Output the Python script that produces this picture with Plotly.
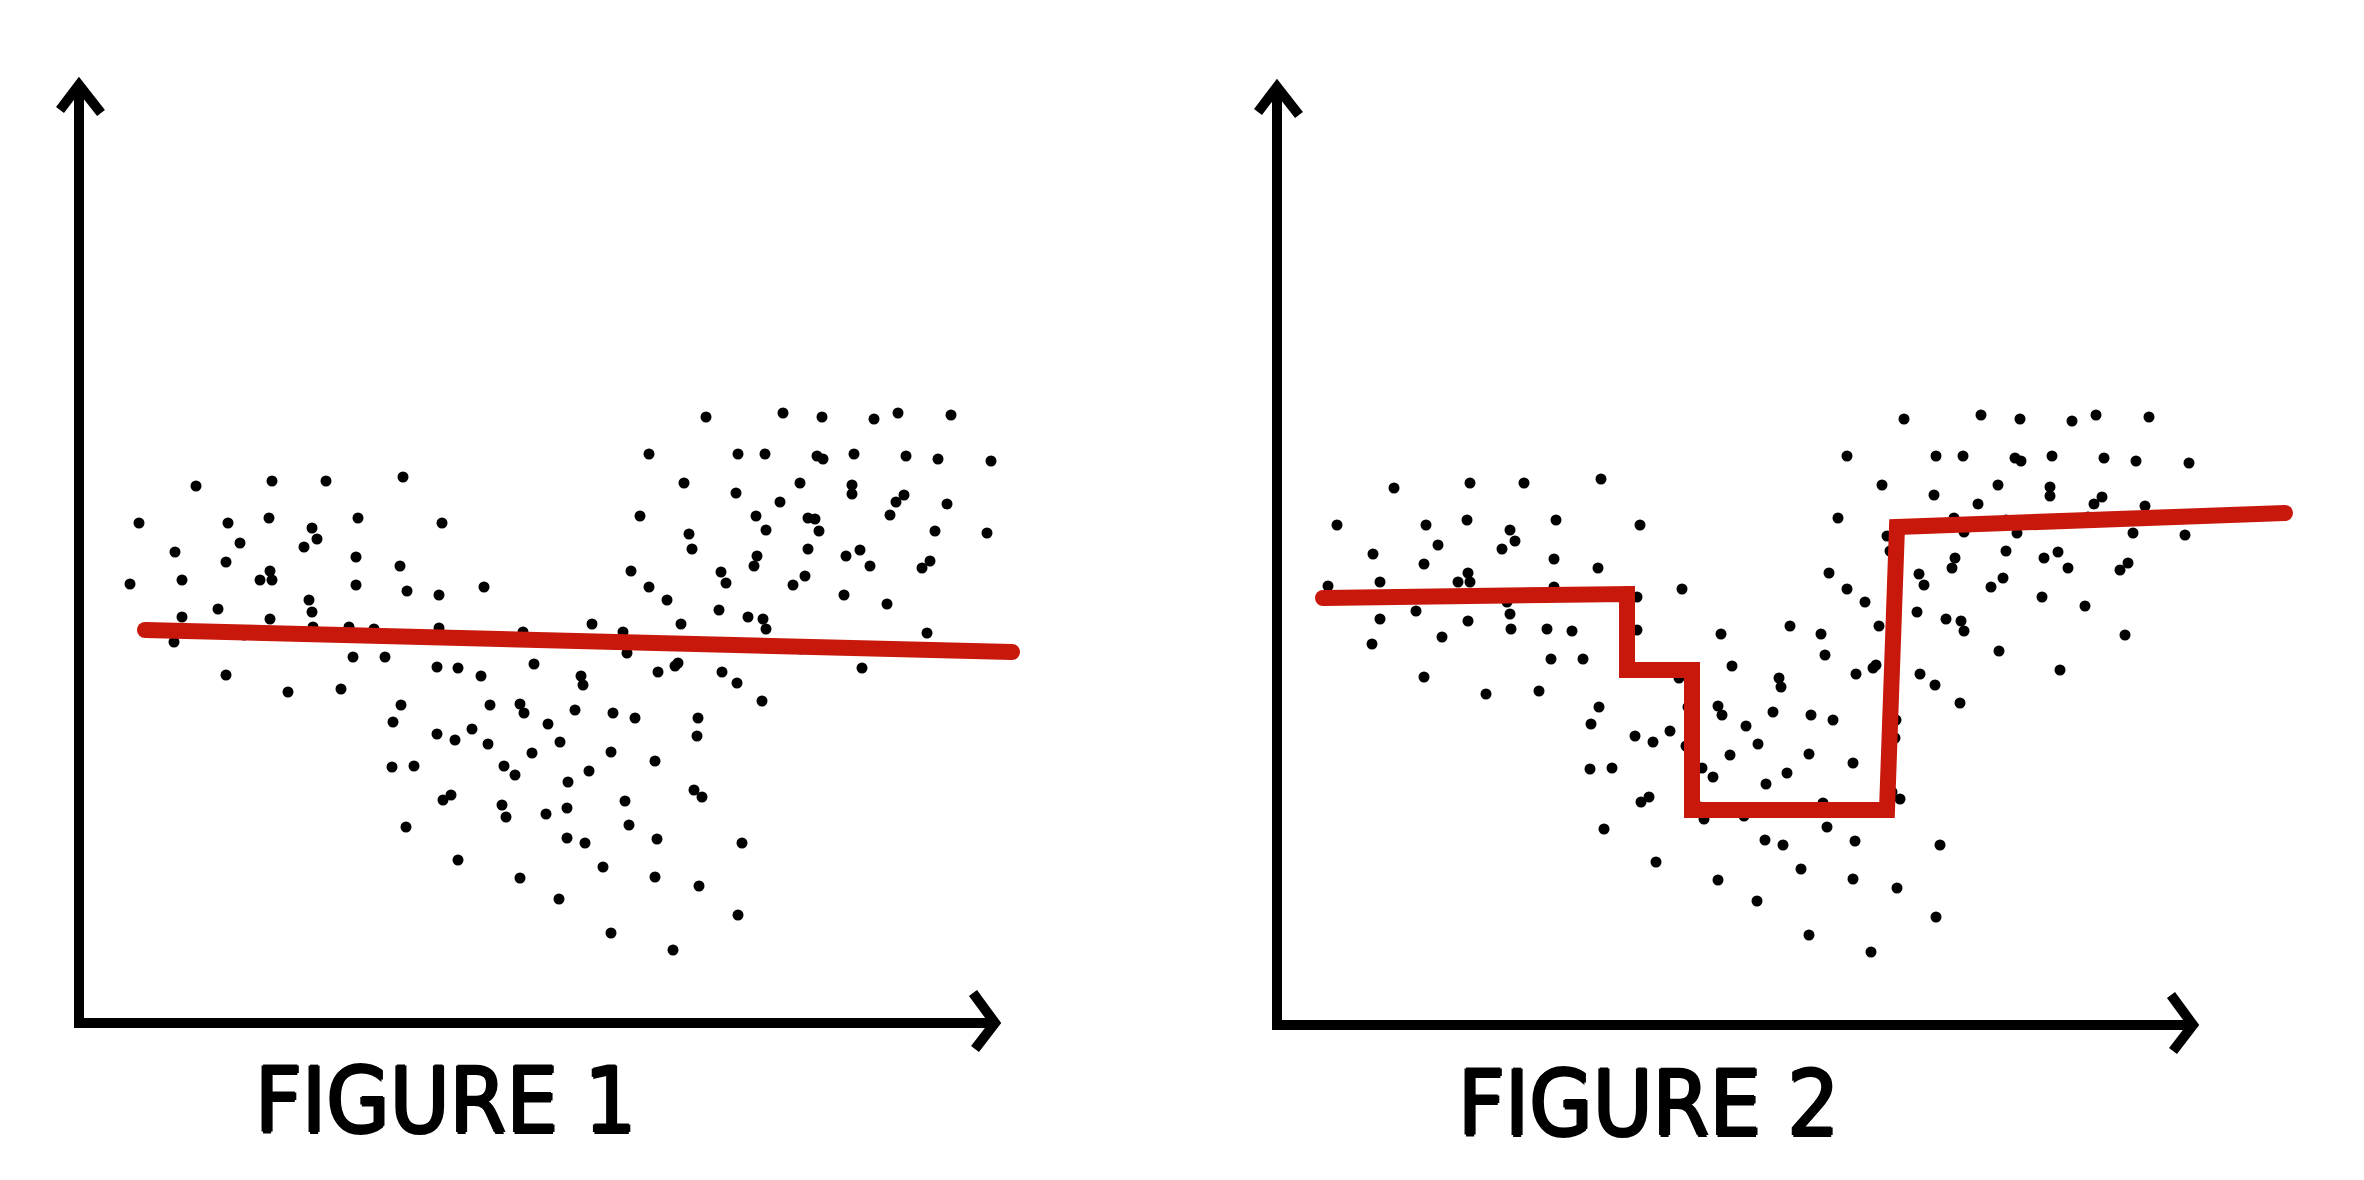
import plotly.graph_objects as go

# ---- data (shared point cloud, drawn in both panels) ----
dot_x = [11.7, 19.3, 24.7, 32.4, 6.0, 14.9, 19.0, 27.9, 36.3, 23.3, 23.8, 16.1, 9.6, 22.5, 27.7, 14.7, 32.1,
         5.1, 10.3, 18.1, 19.1, 19.3, 27.7, 32.8, 36.0, 40.5, 23.0, 23.3, 10.3, 13.9, 19.1, 23.4, 27.0, 29.5,
         36.0, 44.4, 9.5, 27.4, 30.6, 35.8, 37.9, 40.2, 45.5, 14.7, 16.5,
         62.7, 70.4, 74.3, 79.5, 81.9, 87.2, 57.0, 65.9, 68.6, 73.8, 74.4, 77.5, 82.7, 85.9, 91.2,
         60.5, 65.7, 72.1, 77.3, 77.3, 82.5, 81.7, 86.8, 70.1, 56.1, 67.7, 68.7, 72.9, 73.6, 74.0, 81.1,
         85.6, 90.8, 61.0, 61.3, 72.9, 67.8, 67.5, 76.7, 78.1, 79.1, 85.1, 84.3, 55.2, 64.2, 64.7, 72.6,
         71.4, 57.0, 58.8, 76.5, 80.8, 64.0, 66.9, 68.4, 68.7, 51.3, 60.2, 54.4, 84.8, 54.8, 57.9, 59.6,
         59.9, 64.3, 65.8, 78.3, 50.2, 50.4, 72.2,
         20.9, 26.2, 32.2, 31.4, 41.1, 44.1, 44.5, 46.9, 35.8, 37.6, 39.3, 40.9, 45.3, 48.1, 31.3, 33.5,
         42.5, 43.6, 48.9, 36.4, 37.2, 42.3, 42.7, 46.7, 48.8, 48.8, 32.7, 37.9, 44.1, 48.0,
         68.3, 49.6, 53.4, 55.6, 61.9, 61.8, 53.2, 57.6, 51.0, 54.6, 61.5, 62.3, 55.0, 50.6, 57.8, 66.3,
         52.4, 57.6, 62.0, 65.9, 53.2, 59.4]
dot_y = [53.7, 54.2, 54.2, 54.6, 50.0, 50.0, 50.5, 50.5, 50.0, 49.5, 48.4, 48.0, 47.1, 47.6, 46.6, 46.1, 45.7,
         43.9, 44.3, 44.3, 45.2, 44.3, 43.8, 43.2, 42.8, 43.6, 42.3, 41.1, 40.6, 41.4, 40.4, 39.6, 39.6, 39.4,
         39.5, 39.1, 38.1, 36.6, 36.6, 35.6, 35.5, 34.7, 35.9, 34.8, 38.8,
         60.6, 61.0, 60.6, 60.4, 61.0, 60.8, 56.9, 56.9, 56.9, 56.7, 56.4, 56.9, 56.7, 56.4, 56.2,
         54.0, 53.0, 54.0, 53.8, 52.9, 52.8, 52.1, 51.9, 52.1, 50.7, 50.7, 49.3, 50.5, 50.4, 49.2, 50.8,
         49.2, 49.0, 48.9, 47.4, 47.4, 46.7, 45.7, 46.7, 47.3, 45.7, 46.2, 45.5, 45.2, 45.1, 44.0, 44.7,
         43.8, 43.6, 42.3, 42.8, 41.9, 41.3, 40.6, 40.4, 39.4, 39.9, 39.9, 39.1, 39.0, 37.0, 35.1, 35.7,
         36.0, 35.1, 34.0, 35.5, 34.7, 33.8, 37.4,
         33.1, 33.4, 31.8, 30.1, 31.8, 31.9, 31.0, 29.9, 28.9, 28.3, 29.4, 27.9, 27.0, 28.1, 25.6, 25.7,
         25.7, 24.8, 24.1, 22.3, 22.8, 21.8, 20.6, 20.9, 21.5, 18.5, 19.6, 16.3, 14.5, 12.4,
         32.2, 31.3, 31.0, 30.5, 30.5, 28.7, 27.1, 26.2, 25.2, 22.2, 23.3, 22.6, 19.8, 18.0, 18.4, 18.0,
         15.6, 14.6, 13.7, 10.8, 9.0, 7.3]

# Figure 1: straight-line fit
fit1_x = [6.6, 93.3]
fit1_y = [39.3, 37.1]

# Figure 2: step-function fit
step_x = [4.6, 35.0, 35.0, 41.5, 41.5, 61.0, 62.0, 100.8]
step_y = [42.7, 43.1, 35.5, 35.5, 21.5, 21.5, 49.8, 51.2]

labels = ["FIGURE 1", "FIGURE 2"]

# ---- styling / layout constants ----
W, H = 2364, 1180
INK = "#000000"
RED = "#c8180c"
AXIS_W = 10
FIT_W = 16
X_END, Y_END = 91.6, 93.8  # arrow tips, in each panel's data units
LABEL_FONT = dict(family="DejaVu Sans Condensed, Liberation Sans Narrow, Arial Narrow, sans-serif",
                  size=91, color=INK,
                  shadow="1.5px 0 0 #000, -1.5px 0 0 #000, 0 1.5px 0 #000, 0 -1.5px 0 #000")

fig = go.Figure()

panels = [("x", "y"), ("x2", "y2")]
fits = [(fit1_x, fit1_y), (step_x, step_y)]

for (xa, ya), (fx, fy) in zip(panels, fits):
    fig.add_trace(go.Scatter(x=dot_x, y=dot_y, mode="markers", xaxis=xa, yaxis=ya,
                             marker=dict(color=INK, size=11, line=dict(width=0)),
                             hoverinfo="skip", showlegend=False))
    fig.add_trace(go.Scatter(x=fx, y=fy, mode="lines+markers", xaxis=xa, yaxis=ya,
                             line=dict(color=RED, width=FIT_W),
                             marker=dict(color=RED, size=FIT_W, line=dict(width=0)),
                             hoverinfo="skip", showlegend=False))

shapes = []
for xa, ya in panels:
    common = dict(xref=xa, yref=ya, line=dict(color=INK, width=AXIS_W), layer="below")
    shapes.append(dict(type="path", path=f"M 0 {Y_END} L 0 0 L {X_END} 0", **common))
    shapes.append(dict(type="path",
                       path=f"M -1.9 {Y_END-2.5} L 0 {Y_END} L 2.2 {Y_END-2.8}", **common))
    shapes.append(dict(type="path",
                       path=f"M {X_END-2.2} 3.0 L {X_END} 0 L {X_END-2.0} -2.6", **common))

annotations = [
    dict(text=labels[0], x=445 / W, y=1 - 1100 / H, xref="paper", yref="paper",
         showarrow=False, xanchor="center", yanchor="middle", font=LABEL_FONT),
    dict(text=labels[1], x=1648 / W, y=1 - 1103 / H, xref="paper", yref="paper",
         showarrow=False, xanchor="center", yanchor="middle", font=LABEL_FONT),
]

ax_common = dict(visible=False, showgrid=False, zeroline=False, fixedrange=True)
fig.update_layout(
    width=W, height=H, autosize=False,
    margin=dict(l=0, r=0, t=0, b=0, pad=0),
    paper_bgcolor="white", plot_bgcolor="rgba(0,0,0,0)",
    xaxis=dict(domain=[0, 0.5], range=[-7.9, 110.3], **ax_common),
    yaxis=dict(domain=[0, 1], range=[-15.7, 102.3], **ax_common),
    xaxis2=dict(domain=[0.5, 1], range=[-9.5, 108.7], anchor="y2", **ax_common),
    yaxis2=dict(domain=[0, 1], range=[-15.5, 102.5], anchor="x2", **ax_common),
    shapes=shapes, annotations=annotations,
)

fig.write_html("out.html", config={"displayModeBar": False},
               post_script="document.body.style.margin='0';document.body.style.overflow='hidden';")
